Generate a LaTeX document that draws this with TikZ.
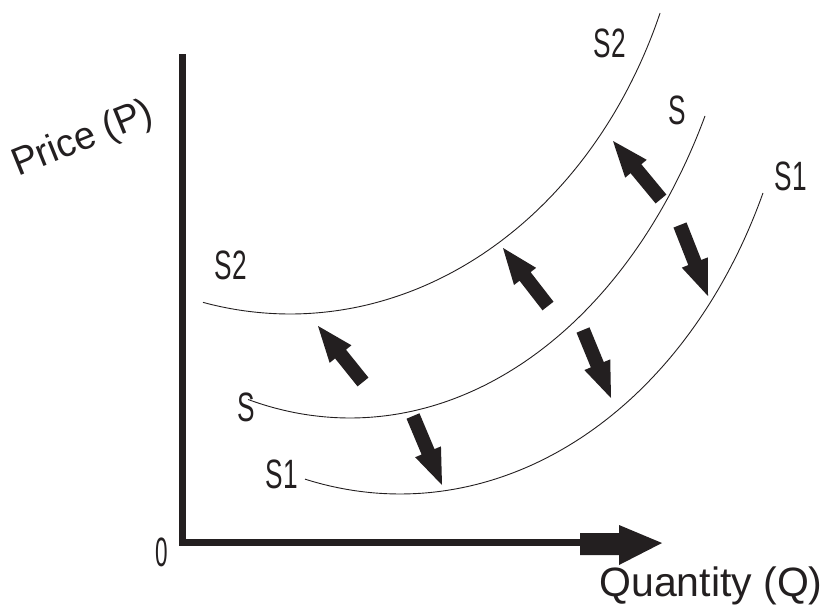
\documentclass[tikz,border=0pt]{standalone}
\usepackage{fontspec}
\setmainfont{Liberation Sans}
\usetikzlibrary{calc}
\definecolor{ink}{HTML}{231F20}
\newcommand\blockarrow[2]{%
  \coordinate (ba) at ($(#2)!36pt!(#1)$);
  \fill[ink] ($(#1)!7pt!90:(#2)$) -- ($(ba)!7pt!90:(#2)$) -- ($(ba)!14pt!90:(#2)$)
    -- (#2) -- ($(ba)!14pt!-90:(#2)$) -- ($(ba)!7pt!-90:(#2)$) -- ($(#1)!7pt!-90:(#2)$) -- cycle;}
\begin{document}
\begin{tikzpicture}[x=1pt,y=-1pt,
  lbl/.style={inner sep=0pt,anchor=base,text=ink,font=\fontsize{41}{41}\selectfont},
  slbl/.style={lbl,xscale=0.64},
  curve/.style={draw=ink,line width=0.9pt},
  axisline/.style={draw=ink,line width=7pt,line join=miter}]
\useasboundingbox (0,0) rectangle (827,605);
% axes
\coordinate (ytop) at (182,54);
\coordinate (orig) at (182,542);
\coordinate (xend) at (581,542);
\draw[axisline] (ytop) -- (orig) -- (xend);
\fill[ink] (580,533) -- (619,533) -- (619,525) -- (662,543) -- (619,565) -- (619,555) -- (580,555) -- cycle;
% labels
\node[lbl,rotate=22,xscale=0.93,yscale=0.95] (py) at (87,149) {Price (P)};
\node[lbl] (qx) at (711,596) {Quantity (Q)};
\node[lbl,xscale=0.55] (zero) at (162,566) {0};
\node[slbl] (s2a) at (610,57) {S2};
\node[slbl] (s2b) at (231,279) {S2};
\node[slbl] (sa) at (677,124) {S};
\node[slbl] (sb) at (246,421) {S};
\node[slbl] (s1a) at (791,190) {S1};
\node[slbl] (s1b) at (282,488) {S1};
% curves (elliptic arcs)
\draw[curve] plot[domain=-12.56:67.7,samples=90,smooth] ({290+400*sin(\x)},{-171+485*cos(\x)});
\draw[curve] plot[domain=-14.77:62.57,samples=90,smooth] ({350+400*sin(\x)},{-142+560*cos(\x)});
\draw[curve] plot[domain=-13.74:65.17,samples=90,smooth] ({400+400*sin(\x)},{-25+519*cos(\x)});
% shift arrows
\coordinate (t1) at (363,382); \coordinate (h1) at (318,326);
\coordinate (t2) at (413,416); \coordinate (h2) at (442,485);
\coordinate (t3) at (548,306); \coordinate (h3) at (503,248);
\coordinate (t4) at (583,330); \coordinate (h4) at (611,398);
\coordinate (t5) at (661,199); \coordinate (h5) at (613,141);
\coordinate (t6) at (680,225); \coordinate (h6) at (708,296);
\blockarrow{t1}{h1}
\blockarrow{t2}{h2}
\blockarrow{t3}{h3}
\blockarrow{t4}{h4}
\blockarrow{t5}{h5}
\blockarrow{t6}{h6}
\end{tikzpicture}
\end{document}
